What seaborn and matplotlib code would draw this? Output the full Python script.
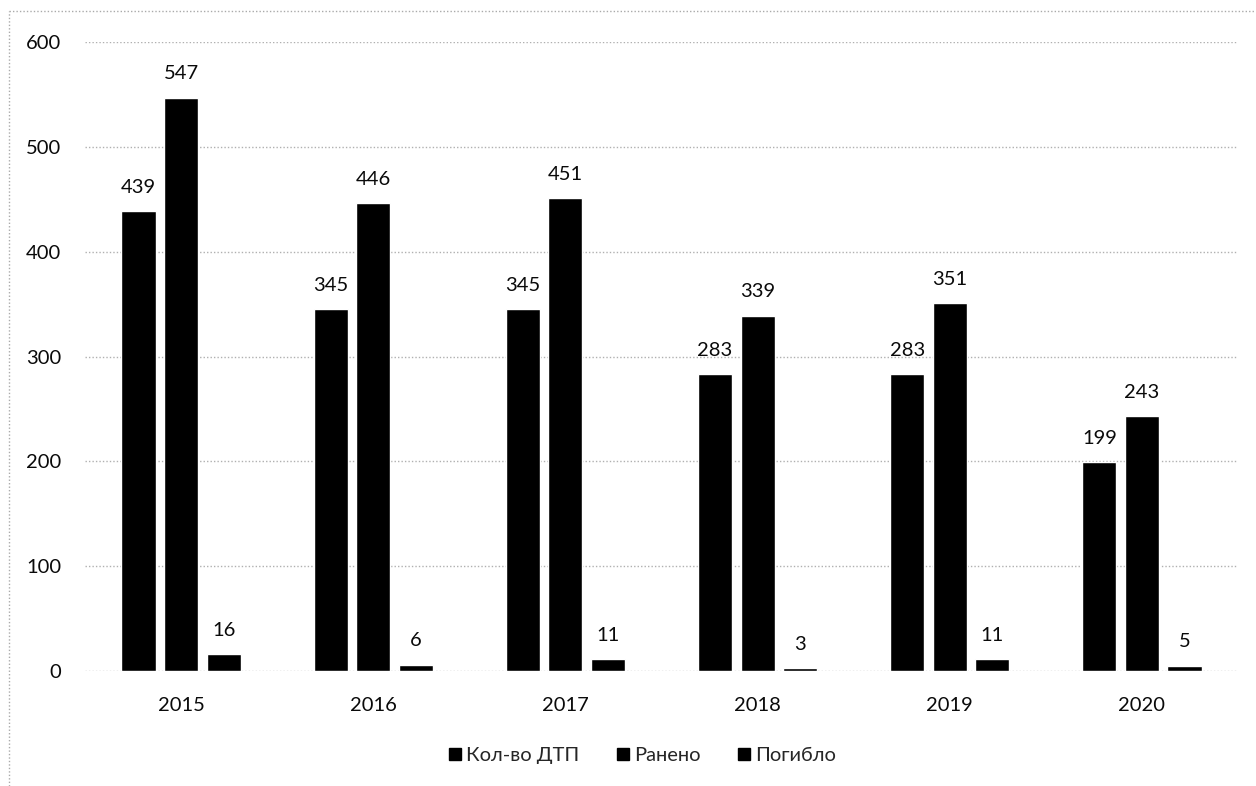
import matplotlib
matplotlib.use("Agg")
import matplotlib.pyplot as plt
from matplotlib.lines import Line2D
import seaborn as sns
import pandas as pd

years = ["2015", "2016", "2017", "2018", "2019", "2020"]
series_names = ["Кол-во ДТП", "Ранено", "Погибло"]
accidents = [439, 345, 345, 283, 283, 199]
injured = [547, 446, 451, 339, 351, 243]
killed = [16, 6, 11, 3, 11, 5]

rows = []
for name, vals in zip(series_names, [accidents, injured, killed]):
    for y, v in zip(years, vals):
        rows.append({"year": y, "series": name, "value": v})
df = pd.DataFrame(rows)

sns.set_theme(style="white")
plt.rcParams["font.family"] = ["Lato", "DejaVu Sans"]

W, H = 1256, 786
fig = plt.figure(figsize=(W / 100, H / 100), dpi=100)
ax = fig.add_axes([85 / W, 1 - 671 / H, (1238 - 85) / W, (671 - 42) / H])

sns.barplot(data=df, x="year", y="value", hue="series", order=years,
            hue_order=series_names, palette=["black"] * 3,
            width=0.665, gap=0.2, saturation=1, ax=ax, legend=False)

for cont in ax.containers:
    ax.bar_label(cont, padding=11, fontsize=14.5, color="#0a0a0a")

ax.set_ylim(0, 600)
ax.set_xlim(-0.5, 5.5)
ax.set_yticks(range(0, 601, 100))
ax.yaxis.grid(True, linestyle=(0, (1, 1.5)), color="#b0b0b0", linewidth=1)
ax.xaxis.grid(False)
ax.set_axisbelow(True)
for s in ax.spines.values():
    s.set_visible(False)
ax.set_xlabel("")
ax.set_ylabel("")
ax.tick_params(axis="y", length=0, pad=17, labelsize=14.5, labelcolor="#0a0a0a")
ax.tick_params(axis="x", length=0, pad=19, labelsize=14.5, labelcolor="#0a0a0a")

handles = [Line2D([], [], marker="s", linestyle="none", color="black",
                  markersize=8) for _ in series_names]
fig.legend(handles, series_names, loc="center", ncol=3,
           bbox_to_anchor=(641 / W, 1 - 755 / H), frameon=False,
           fontsize=14.5, handletextpad=0.1, columnspacing=1.7,
           handlelength=0.9)

# dotted frame around the chart area
fig.add_artist(Line2D([9 / W, 1.0], [1 - 11 / H, 1 - 11 / H],
                      transform=fig.transFigure, color="#aaaaaa",
                      linestyle=(0, (1, 1.5)), linewidth=1))
fig.add_artist(Line2D([9 / W, 9 / W], [0.0, 1 - 11 / H],
                      transform=fig.transFigure, color="#aaaaaa",
                      linestyle=(0, (1, 1.5)), linewidth=1))

fig.savefig("out.png", dpi=100)
